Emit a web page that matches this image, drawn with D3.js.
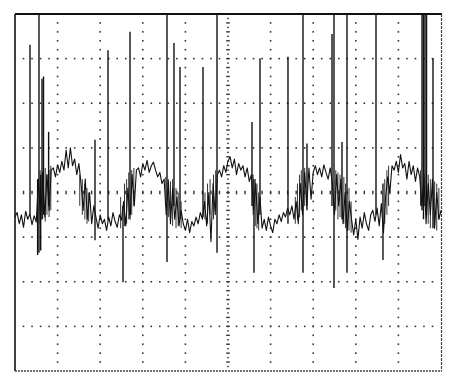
<!DOCTYPE html>
<html>
<head>
<meta charset="utf-8">
<script src="https://cdn.jsdelivr.net/npm/d3@7"></script>
<style>
  html, body { margin: 0; padding: 0; background: #ffffff; }
  svg { display: block; }
</style>
</head>
<body>
<div id="chart"></div>
<script>
// ---- Data (time in ms, 10 ms/div; voltage in V, 1 V/div) ----
const sampleStep = 0.5; // ms between trace samples
const trace = [
  -0.55,-0.45,-0.70,-0.50,-0.78,-0.42,-0.60,-0.48,-0.72,-0.52,-0.66,
  0.30,-0.65,0.45,-0.55,0.40,-0.40,0.50,
  0.55,0.35,0.62,0.45,0.70,0.50,0.95,0.55,1.00,0.60,0.75,0.40,0.65,
  0.20,-0.40,0.30,-0.60,0.00,-0.70,-0.30,
  -0.55,-0.80,-0.50,-0.70,-0.60,-0.85,-0.55,-0.75,-0.45,-0.65,-0.78,-0.50,-0.62,
  -0.20,-0.75,0.10,-0.60,0.40,-0.30,0.50,
  0.55,0.35,0.65,0.50,0.72,0.45,0.60,0.68,0.50,0.35,0.45,0.20,0.30,
  -0.50,0.25,-0.70,0.10,-0.60,-0.10,-0.75,-0.40,
  -0.70,-0.85,-0.60,-0.90,-0.65,-0.75,-0.55,-0.70,-0.45,-0.60,
  -0.20,-0.75,0.00,-1.10,0.20,-0.50,0.40,
  0.50,0.35,0.60,0.45,0.70,0.80,0.55,0.75,0.40,0.65,0.50,0.60,0.35,0.55,0.25,0.40,
  -0.40,0.20,-0.70,-0.10,
  -0.80,-0.60,-0.85,-0.55,-0.75,-0.90,-0.60,-0.70,-0.50,-0.65,-0.45,-0.55,-0.35,-0.50,-0.30,-0.60,
  -0.20,-0.70,0.20,-0.50,0.45,-0.30,
  0.55,-0.15,0.45,0.60,0.40,0.55,0.35,0.62,0.45,0.30,0.55,0.20,
  -0.50,0.40,-0.30,0.30,-0.70,0.00,-0.85,-0.20,-0.60,
  -0.95,-0.60,-1.05,-0.55,-0.80,-0.45,-0.70,-0.85,-0.50,-0.40,-0.65,-0.35,-0.75,-0.25,-0.90,
  -0.10,0.35,0.00,
  0.60,0.50,0.70,0.45,0.85,0.55,0.65,0.30,0.70,0.40,0.60,0.25,0.55,0.35,
  -0.30,0.40,-0.70,0.20,-0.50,0.30,-0.80,0.00,-0.60,-0.40
];

// Fast transient spikes (time, peak high, peak low)
const spikeTimes = [3.52,5.31,5.63,6.03,6.34,6.69,7.89,18.78,21.83,25.35,27.00,35.68,37.32,38.73,44.13,47.42,55.63,56.10,57.51,64.08,67.61,68.54,74.41,74.88,76.76,77.93,84.74,86.38,95.54,95.89,96.24,96.60,98.12];
const spikeHighs = [3.31,0.30,4.00,0.40,2.55,2.60,1.36,1.18,3.19,-0.30,3.60,4.00,3.35,2.81,2.81,4.00,1.58,0.30,3.01,3.04,4.00,1.10,3.55,4.00,1.13,4.00,4.00,0.20,4.00,4.00,4.00,4.00,3.01];
const spikeLows  = [-0.50,-1.40,-1.35,-1.30,-0.60,-0.50,-0.30,-1.07,-0.62,-2.01,-0.50,-1.56,-0.30,-0.60,-0.55,-1.35,-0.30,-1.80,-0.50,-0.70,-1.80,-0.40,-0.30,-2.14,-0.60,-1.80,-0.50,-1.51,-0.40,-0.60,-0.30,-0.50,-0.80];

// Rapid oscillation bursts at the level transitions (time, swing high, swing low)
const burstTimes = [5.9,6.5,7.1,7.5,8.0,8.4, 15.2,15.8,16.4,16.9,17.3, 24.8,25.7,26.2,26.7,27.4,27.9,
  35.4,36.0,36.5,37.0,37.8,38.3,39.0, 44.6,45.2,45.8,46.6,47.1, 55.9,56.4,56.8,57.2,
  65.8,66.3,66.8,67.2,68.0, 75.3,75.8,76.3,77.2,77.6,78.4,78.9, 86.8,87.3,87.7,
  95.2,97.0,97.5,98.5,99.0,99.5];
const burstHighs = [0.50,0.45,0.55,0.40,0.50,0.60, 0.40,0.30,0.20,0.10,0.00, -0.10,0.20,0.30,0.45,0.50,0.55,
  0.35,0.30,0.25,0.30,0.10,0.00,-0.20, 0.00,0.20,0.30,0.40,0.50, 0.40,0.30,0.20,0.00,
  -0.10,0.20,0.40,0.50,0.55, 0.50,0.45,0.40,0.35,0.20,0.10,-0.20, 0.30,0.50,0.60,
  0.50,0.40,0.30,0.25,0.20,0.10];
const burstLows = [-0.70,-0.60,-0.65,-0.50,-0.55,-0.40, -0.30,-0.50,-0.60,-0.70,-0.65, -0.80,-0.75,-0.70,-0.60,-0.50,-0.30,
  -0.30,-0.55,-0.70,-0.75,-0.80,-0.75,-0.80, -0.60,-0.70,-0.50,-0.60,-0.40, -0.50,-0.75,-0.80,-0.85,
  -0.70,-0.60,-0.55,-0.40,-0.30, -0.40,-0.60,-0.55,-0.70,-0.80,-0.85,-0.90, -0.70,-0.50,-0.30,
  -0.30,-0.70,-0.80,-0.75,-0.85,-0.60];

const timeDomain = [0, 100];   // 10 divisions
const voltDomain = [-4, 4];    // 8 divisions
const divisionsX = 10, divisionsY = 8, minorPerDiv = 5;

// ---- Layout ----
const W = 450, H = 384;
const frameL = 15, frameR = 441, frameT = 14, frameB = 371;

const svg = d3.select("#chart").append("svg")
  .attr("width", W).attr("height", H);

svg.append("rect").attr("width", W).attr("height", H).attr("fill", "#fff");

const x = d3.scaleLinear().domain(timeDomain).range([frameL, frameR]);
const y = d3.scaleLinear().domain(voltDomain).range([frameB, frameT]);

const dotColor = "#333";
const grid = svg.append("g");

const xMajor = d3.range(1, divisionsX).map(i => timeDomain[0] + i * (timeDomain[1] - timeDomain[0]) / divisionsX);
const yMajor = d3.range(1, divisionsY).map(i => voltDomain[0] + i * (voltDomain[1] - voltDomain[0]) / divisionsY);
const xStep = (timeDomain[1] - timeDomain[0]) / divisionsX / minorPerDiv;
const yStep = (voltDomain[1] - voltDomain[0]) / divisionsY / minorPerDiv;
const xMinor = d3.range(1, divisionsX * minorPerDiv).map(i => timeDomain[0] + i * xStep);
const yMinor = d3.range(1, divisionsY * minorPerDiv).map(i => voltDomain[0] + i * yStep);
const xCenter = (timeDomain[0] + timeDomain[1]) / 2;
const yCenter = (voltDomain[0] + voltDomain[1]) / 2;

// Vertical dotted lines
xMajor.filter(t => t !== xCenter).forEach(t => {
  grid.selectAll(null).data(yMinor).enter().append("rect")
    .attr("x", x(t) - 0.8).attr("y", v => y(v) - 0.8)
    .attr("width", 1.6).attr("height", 1.6).attr("fill", dotColor);
});
// Horizontal dotted lines
yMajor.filter(v => v !== yCenter).forEach(v => {
  grid.selectAll(null).data(xMinor).enter().append("rect")
    .attr("x", t => x(t) - 0.8).attr("y", y(v) - 0.8)
    .attr("width", 1.6).attr("height", 1.6).attr("fill", dotColor);
});
// Center vertical axis: dense dots with small ticks
const yFine = d3.range(1, divisionsY * minorPerDiv * 2).map(i => voltDomain[0] + i * yStep / 2);
grid.selectAll(null).data(yFine).enter().append("rect")
  .attr("x", (d, i) => x(xCenter) - (i % 2 ? 1.8 : 0.8))
  .attr("y", v => y(v) - 0.7)
  .attr("width", (d, i) => i % 2 ? 3.6 : 1.6)
  .attr("height", 1.4).attr("fill", dotColor);
// Center horizontal axis: small ticks
grid.selectAll(null).data(xMinor).enter().append("rect")
  .attr("x", t => x(t) - 0.7).attr("y", y(yCenter) - 1.8)
  .attr("width", 1.4).attr("height", 3.6).attr("fill", dotColor);

// ---- Frame ----
svg.append("line").attr("x1", frameL).attr("x2", frameR + 1).attr("y1", frameT).attr("y2", frameT)
  .attr("stroke", "#111").attr("stroke-width", 2);
svg.append("line").attr("x1", frameL).attr("x2", frameL).attr("y1", frameT).attr("y2", frameB)
  .attr("stroke", "#111").attr("stroke-width", 1.6);
svg.append("line").attr("x1", frameL).attr("x2", frameR + 1).attr("y1", frameB).attr("y2", frameB)
  .attr("stroke", "#444").attr("stroke-width", 1.4).attr("stroke-dasharray", "2,1");
svg.append("line").attr("x1", frameR + 0.5).attr("x2", frameR + 0.5).attr("y1", frameT).attr("y2", frameB)
  .attr("stroke", "#444").attr("stroke-width", 1.2).attr("stroke-dasharray", "3,1");

// ---- Transition bursts ----
svg.append("g").selectAll("line").data(burstTimes).enter().append("line")
  .attr("x1", t => x(t)).attr("x2", t => x(t))
  .attr("y1", (t, i) => y(burstHighs[i])).attr("y2", (t, i) => y(burstLows[i]))
  .attr("stroke", "#333").attr("stroke-width", 1);

// ---- Trace ----
const pts = trace.map((v, i) => [i * sampleStep, v]);
const line = d3.line().x(d => x(d[0])).y(d => y(d[1]));
svg.append("path").datum(pts).attr("d", line)
  .attr("fill", "none").attr("stroke", "#111").attr("stroke-width", 1.1)
  .attr("stroke-linejoin", "round");

// ---- Spikes ----
svg.append("g").selectAll("line").data(spikeTimes).enter().append("line")
  .attr("x1", t => x(t)).attr("x2", t => x(t))
  .attr("y1", (t, i) => y(spikeHighs[i])).attr("y2", (t, i) => y(spikeLows[i]))
  .attr("stroke", "#111").attr("stroke-width", 1.4);
</script>
</body>
</html>
